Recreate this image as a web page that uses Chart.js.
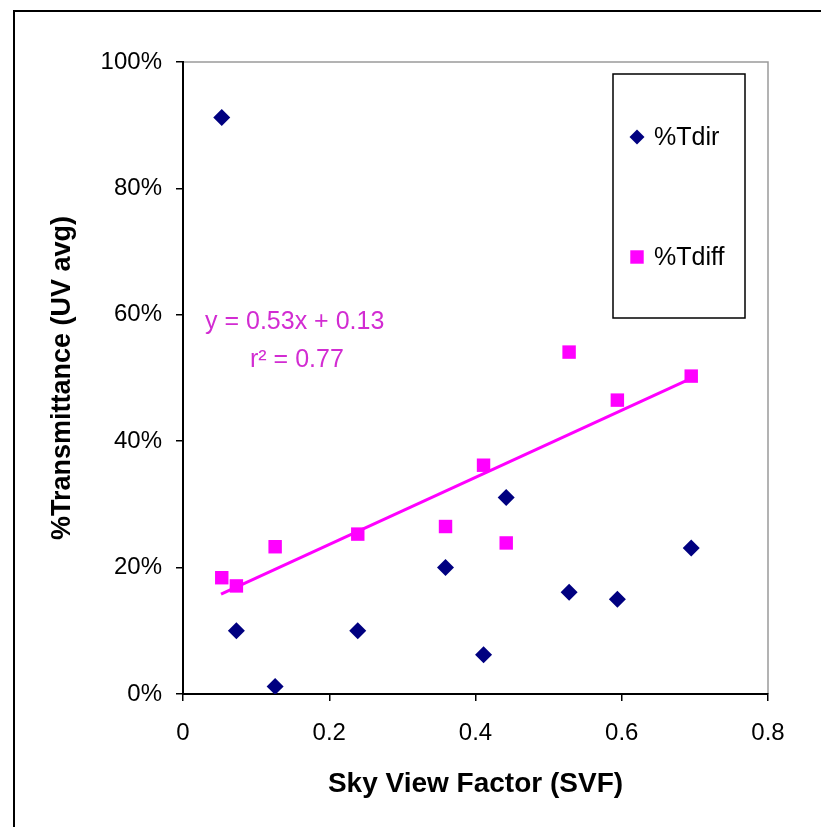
<!DOCTYPE html>
<html><head><meta charset="utf-8">
<script src="https://cdn.jsdelivr.net/npm/chart.js@4/dist/chart.umd.min.js"></script>
<style>html,body{margin:0;padding:0;background:#fff}#wrap{width:821px;height:827px;position:relative}</style>
</head><body><div id="wrap"><canvas id="c" width="821" height="827"></canvas></div>
<script>
// ---- data ----
const svf   = [0.053, 0.073, 0.126, 0.239, 0.359, 0.411, 0.442, 0.528, 0.594, 0.695];
const tDir  = [91.2, 10.0, 1.2, 10.0, 20.0, 6.2, 31.1, 16.1, 15.0, 23.1];
const tDiff = [18.4, 17.1, 23.3, 25.3, 26.5, 36.2, 23.9, 54.1, 46.5, 50.3];
const trendX = [0.052, 0.692];
const trendY = [15.8, 49.8];
const seriesNames = ['%Tdir', '%Tdiff'];
const xTicks = [0, 0.2, 0.4, 0.6, 0.8];
const yTicks = [0, 20, 40, 60, 80, 100];
const eqLines = ['y = 0.53x + 0.13', 'r\u00B2 = 0.77'];
const xTitle = 'Sky View Factor (SVF)';
const yTitle = '%Transmittance (UV avg)';

const NAVY = '#000080', MAG = '#FF00FF', EQ = '#D22CD2';
const FONT = "'Liberation Sans', Arial, sans-serif";

function pts(xs, ys){ return xs.map((x,i)=>({x:x, y:ys[i]})); }

function marker(ctx, style, x, y, r, color){
  ctx.save(); ctx.fillStyle = color; ctx.beginPath();
  if (style === 'rectRot'){
    ctx.moveTo(x - r, y); ctx.lineTo(x, y - r); ctx.lineTo(x + r, y); ctx.lineTo(x, y + r);
  } else {
    const s = r * Math.SQRT1_2; ctx.rect(x - s, y - s, 2*s, 2*s);
  }
  ctx.closePath(); ctx.fill(); ctx.restore();
}

const decor = {
  id: 'decor',
  beforeDraw(chart){
    const ctx = chart.ctx, a = chart.chartArea;
    ctx.save();
    ctx.fillStyle = '#fff'; ctx.fillRect(0,0,chart.width,chart.height);
    ctx.strokeStyle = '#000'; ctx.lineWidth = 2;
    ctx.strokeRect(14, 11, 900, 900);
    ctx.strokeStyle = '#9a9a9a'; ctx.lineWidth = 1.5;
    ctx.beginPath(); ctx.moveTo(a.left, a.top); ctx.lineTo(a.right, a.top); ctx.lineTo(a.right, a.bottom); ctx.stroke();
    ctx.restore();
  },
  afterDraw(chart){
    const ctx = chart.ctx, a = chart.chartArea;
    ctx.save();
    // regression equation
    ctx.fillStyle = EQ; ctx.font = '25px ' + FONT; ctx.textBaseline = 'middle'; ctx.textAlign = 'left';
    ctx.fillText(eqLines[0], a.left + 22, 322);
    ctx.fillText(eqLines[1], a.left + 67, 360);
    // legend box
    ctx.strokeStyle = '#000'; ctx.lineWidth = 1.5;
    ctx.strokeRect(613, 74, 132, 244);
    const ys = [137, 257];
    chart.data.datasets.slice(0,2).forEach((ds, i) => {
      marker(ctx, ds.pointStyle, 637, ys[i], ds.pointStyle === 'rectRot' ? 7.5 : 9.5, ds.backgroundColor);
      ctx.fillStyle = '#000'; ctx.font = '25px ' + FONT; ctx.textBaseline = 'middle';
      ctx.fillText(ds.label, 654, ys[i] + 1);
    });
    ctx.restore();
  }
};

new Chart(document.getElementById('c'), {
  type: 'scatter',
  data: {
    datasets: [
      { label: seriesNames[0], data: pts(svf, tDir), pointStyle: 'rectRot', pointRadius: 8.5, pointHoverRadius: 8.5,
        backgroundColor: NAVY, borderColor: NAVY, borderWidth: 0 },
      { label: seriesNames[1], data: pts(svf, tDiff), pointStyle: 'rect', pointRadius: 9.5, pointHoverRadius: 9.5,
        backgroundColor: MAG, borderColor: MAG, borderWidth: 0 },
      { label: 'trend', type: 'line', data: pts(trendX, trendY), showLine: true, borderColor: MAG, borderWidth: 3,
        pointRadius: 0, fill: false }
    ]
  },
  options: {
    responsive: false, animation: false, devicePixelRatio: 1,
    layout: { padding: { left: 0, top: 62, right: 53, bottom: 0 } },
    plugins: { legend: { display: false }, tooltip: { enabled: false } },
    scales: {
      x: {
        type: 'linear', min: 0, max: 0.8,
        afterBuildTicks: s => { s.ticks = xTicks.map(v => ({value: v})); },
        afterFit: s => { s.height = 133; },
        ticks: { color: '#000', font: { family: FONT, size: 24 }, padding: 18, maxRotation: 0,
                 callback: v => String(v) },
        grid: { drawOnChartArea: false, drawTicks: true, tickLength: 7, color: '#000', lineWidth: 1.5 },
        border: { color: '#000', width: 2 },
        title: { display: true, text: xTitle, color: '#000', font: { family: FONT, size: 28, weight: 'bold' },
                 padding: { top: 0, bottom: 26 } }
      },
      y: {
        type: 'linear', min: 0, max: 100,
        afterBuildTicks: s => { s.ticks = yTicks.map(v => ({value: v})); },
        afterFit: s => { s.width = 183; },
        ticks: { color: '#000', font: { family: FONT, size: 24 }, padding: 14,
                 callback: v => v + '%' },
        grid: { drawOnChartArea: false, drawTicks: true, tickLength: 7, color: '#000', lineWidth: 1.5 },
        border: { color: '#000', width: 2 },
        title: { display: true, text: yTitle, color: '#000', font: { family: FONT, size: 27, weight: 'bold' },
                 padding: { top: 46, bottom: 0 } }
      }
    }
  },
  plugins: [decor]
});
</script>
</body></html>
